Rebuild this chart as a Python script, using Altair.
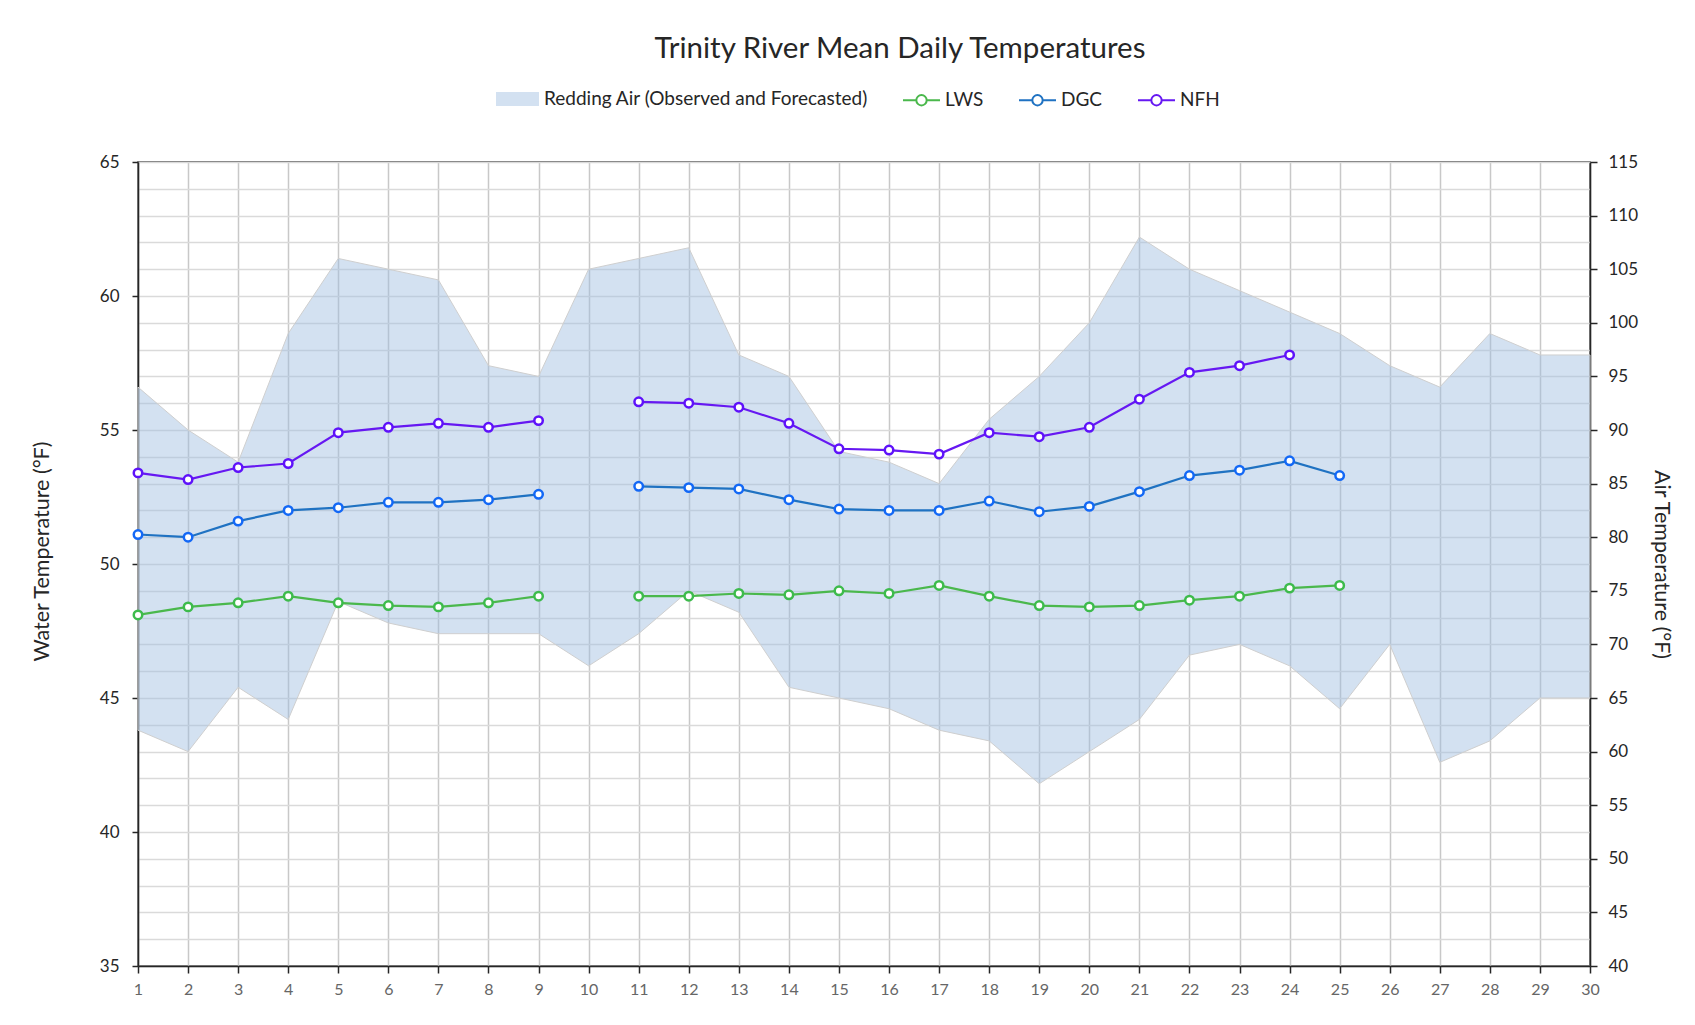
import altair as alt
import pandas as pd

# ---------------- data ----------------
days = list(range(1, 31))
air_high = [94, 90, 87, 99, 106, 105, 104, 96, 95, 105, 106, 107, 97, 95, 88,
            87, 85, 91, 95, 100, 108, 105, 103, 101, 99, 96, 94, 99, 97, 97]
air_low = [62, 60, 66, 63, 74, 72, 71, 71, 71, 68, 71, 75, 73, 66, 65,
           64, 62, 61, 57, 60, 63, 69, 70, 68, 64, 70, 59, 61, 65, 65]
lws = [48.1, 48.4, 48.55, 48.8, 48.55, 48.45, 48.4, 48.55, 48.8, None,
       48.8, 48.8, 48.9, 48.85, 49.0, 48.9, 49.2, 48.8, 48.45, 48.4,
       48.45, 48.65, 48.8, 49.1, 49.2, None, None, None, None, None]
dgc = [51.1, 51.0, 51.6, 52.0, 52.1, 52.3, 52.3, 52.4, 52.6, None,
       52.9, 52.85, 52.8, 52.4, 52.05, 52.0, 52.0, 52.35, 51.95, 52.15,
       52.7, 53.3, 53.5, 53.85, 53.3, None, None, None, None, None]
nfh = [53.4, 53.15, 53.6, 53.75, 54.9, 55.1, 55.25, 55.1, 55.35, None,
       56.05, 56.0, 55.85, 55.25, 54.3, 54.25, 54.1, 54.9, 54.75, 55.1,
       56.15, 57.15, 57.4, 57.8, None, None, None, None, None, None]
series_names = ["LWS", "DGC", "NFH"]
line_colors = ["#4AB84C", "#1F72C2", "#6618F2"]
marker_colors = ["#3DBB4C", "#1368F6", "#5E12FA"]
air_label = "Redding Air (Observed and Forecasted)"
water_ticks = list(range(35, 66))
air_ticks = list(range(40, 116, 5))

air_df = pd.DataFrame({"day": days, "low": air_low, "high": air_high, "label": air_label})
rows = []
for name, vals in zip(series_names, [lws, dgc, nfh]):
    for d, v in zip(days, vals):
        if v is not None:
            rows.append({"day": d, "series": name, "temp": v, "seg": "a" if d < 10 else "b"})
water_df = pd.DataFrame(rows)

FONT = "Lato"
DARK = "#262626"

x_enc = alt.X(
    "day:Q",
    scale=alt.Scale(domain=[1, 30], nice=False, zero=False),
    axis=alt.Axis(values=days, title=None, grid=True, gridColor="#C8C8C8", gridWidth=1.5,
                  tickSize=7, tickColor=DARK, tickWidth=1.5, labelPadding=8, labelColor="#666666",
                  labelFontSize=16, labelFlush=False, labelOverlap=False, format="d",
                  domainColor=DARK, domainWidth=1.5),
)

area = alt.Chart(air_df).mark_area(fillOpacity=0.45, stroke="#CFCFCF", strokeWidth=1).encode(
    x=x_enc,
    y=alt.Y("low:Q", scale=alt.Scale(domain=[40, 115], nice=False, zero=False),
            axis=alt.Axis(orient="right", values=air_ticks, title="Air Temperature (°F)", grid=False,
                          tickSize=7, tickColor=DARK, tickWidth=1.5, labelPadding=11,
                          labelFontSize=17, labelColor=DARK, labelOverlap=False, labelFlush=False,
                          domainColor=DARK, domainWidth=1.5, titlePadding=12, titleFontSize=21.5,
                          titleFontWeight="normal", titleColor=DARK)),
    y2="high:Q",
    fill=alt.Fill("label:N", scale=alt.Scale(domain=[air_label], range=["#9DBCE0"]),
                  legend=alt.Legend(orient="none", legendX=358, legendY=-84.5, title=None,
                                    symbolType="M-1,-0.33L1,-0.33L1,0.33L-1,0.33Z",
                                    symbolSize=1849, symbolOpacity=0.45, symbolStrokeWidth=0,
                                    labelFontSize=19, labelOffset=5, labelColor=DARK,
                                    labelLimit=600, padding=0)),
)

water_scale = alt.Scale(domain=[35, 65], nice=False, zero=False)
water_y = alt.Y(
    "temp:Q", scale=water_scale,
    axis=alt.Axis(orient="left", values=water_ticks, title="Water Temperature (°F)",
                  grid=True, gridColor="#DADADA", gridWidth=1.5,
                  tickSize=6, tickColor=DARK, tickWidth=1.5,
                  tickOpacity={"condition": {"test": "datum.value % 5 === 0", "value": 1}, "value": 0},
                  labelExpr="datum.value % 5 === 0 ? datum.label : ''",
                  labelOverlap=False, labelFlush=False, labelPadding=13, labelFontSize=17,
                  labelColor=DARK, domainColor=DARK, domainWidth=1.5,
                  titlePadding=46, titleFontSize=21.5, titleFontWeight="normal", titleColor=DARK,
                  titleY=389),
)

lines = alt.Chart(water_df).mark_line(strokeWidth=2.2).encode(
    x=x_enc,
    y=water_y,
    stroke=alt.Stroke("series:N", scale=alt.Scale(domain=series_names, range=line_colors),
                      legend=alt.Legend(orient="none", legendX=764, legendY=-81.5, direction="horizontal",
                                        title=None,
                                        symbolType="M-1,0L-0.28,0M0.28,0L1,0M0.28,0A0.28,0.28 0 1,1 -0.28,0A0.28,0.28 0 1,1 0.28,0",
                                        symbolSize=1369, symbolStrokeWidth=2, symbolFillColor="white",
                                        labelFontSize=19, labelOffset=4, labelColor=DARK,
                                        columnPadding=31, padding=0)),
    detail="seg:N",
)

points = alt.Chart(water_df).mark_circle(fill="white", fillOpacity=1, opacity=1, size=72, strokeWidth=2.5).encode(
    x=x_enc,
    y=alt.Y("temp:Q", scale=water_scale, axis=None),
    stroke=alt.Stroke("series:N", scale=alt.Scale(domain=series_names, range=marker_colors), legend=None),
)

chart = (
    alt.layer(area, lines, points)
    .resolve_scale(y="independent", stroke="independent")
    .properties(
        width=1452, height=804,
        padding={"left": 130, "top": 154, "right": 97, "bottom": 45},
        autosize=alt.AutoSizeParams(type="none"),
        title=alt.TitleParams("Trinity River Mean Daily Temperatures", fontSize=29.5, font=FONT,
                              fontWeight="normal", color=DARK, anchor="middle", frame="group",
                              offset=13, dx=36),
    )
    .configure(font=FONT)
    .configure_axis(labelFont=FONT, titleFont=FONT)
    .configure_legend(labelFont=FONT)
    .configure_view(stroke="#404040", strokeWidth=1.5)
)

chart.save("out.html", embed_options={"renderer": "svg", "actions": False})
